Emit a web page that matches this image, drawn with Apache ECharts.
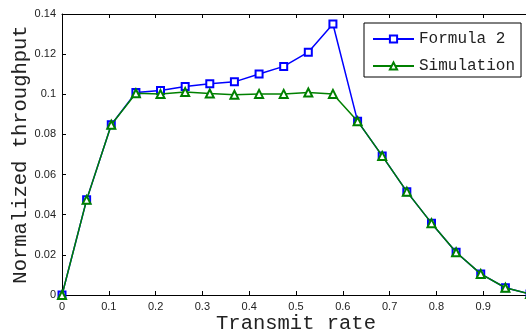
<!DOCTYPE html>
<html><head><meta charset="utf-8">
<script src="https://cdn.jsdelivr.net/npm/echarts@6/dist/echarts.min.js"></script>
<style>html,body{margin:0;padding:0;background:#fff}#c{width:526px;height:329px}</style>
</head><body><div id="c"></div>
<script>
const xValues = [0, 0.0526, 0.1053, 0.1579, 0.2105, 0.2632, 0.3158, 0.3684, 0.4211, 0.4737, 0.5263, 0.5789, 0.6316, 0.6842, 0.7368, 0.7895, 0.8421, 0.8947, 0.9474, 1.0];
const formula2 = [0, 0.0474, 0.0848, 0.1009, 0.1019, 0.1039, 0.1052, 0.1062, 0.1101, 0.1139, 0.1210, 0.1350, 0.0866, 0.0693, 0.0515, 0.0358, 0.0213, 0.0105, 0.0036, 0.0005];
const simulation = [0, 0.0474, 0.0848, 0.1005, 0.1001, 0.1011, 0.1004, 0.0998, 0.1002, 0.1002, 0.1009, 0.1002, 0.0866, 0.0693, 0.0515, 0.0358, 0.0213, 0.0105, 0.0036, 0.0005];
const seriesNames = ['Formula 2', 'Simulation'];
const xTitle = 'Transmit rate';
const yTitle = 'Normalized throughput';

const pair = (xs, ys) => xs.map((x, i) => [x, ys[i]]);
const tickFont = { fontFamily: 'Liberation Sans', fontSize: 11, color: '#222' };
const titleFont = { fontFamily: 'Liberation Mono', fontSize: 20.5, color: '#222' };
const axLine = { show: true, onZero: false, lineStyle: { color: '#000', width: 1 } };
const tick = { show: true, inside: true, length: 4, lineStyle: { color: '#000' } };

const chart = echarts.init(document.getElementById('c'), null, { renderer: 'canvas' });
chart.setOption({
  animation: false,
  backgroundColor: '#fff',
  grid: { left: 62, top: 14, width: 468, height: 281, containLabel: false, outerBoundsMode: 'none' },
  xAxis: [
    { type: 'value', min: 0, max: 1, interval: 0.1, position: 'bottom',
      axisLine: axLine, axisTick: tick, splitLine: { show: false },
      axisLabel: Object.assign({ margin: 6 }, tickFont),
      name: xTitle, nameLocation: 'middle', nameGap: 18, nameMoveOverlap: false, nameTextStyle: titleFont },
    { type: 'value', min: 0, max: 1, interval: 0.1, position: 'top',
      axisLine: axLine, axisTick: tick, splitLine: { show: false }, axisLabel: { show: false } }
  ],
  yAxis: [
    { type: 'value', min: 0, max: 0.14, interval: 0.02, position: 'left',
      axisLine: axLine, axisTick: tick, splitLine: { show: false },
      axisLabel: Object.assign({ margin: 6 }, tickFont),
      name: yTitle, nameLocation: 'middle', nameGap: 31, nameRotate: 90, nameMoveOverlap: false, nameTextStyle: titleFont },
    { type: 'value', min: 0, max: 0.14, interval: 0.02, position: 'right',
      axisLine: axLine, axisTick: tick, splitLine: { show: false }, axisLabel: { show: false } }
  ],
  legend: {
    orient: 'vertical', left: 364, top: 23,
    padding: [8, 6, 3, 8], itemGap: 11, itemWidth: 41, itemHeight: 9,
    backgroundColor: '#fff', borderColor: '#000', borderWidth: 1, borderRadius: 0,
    textStyle: { fontFamily: 'Liberation Mono', fontSize: 16, color: '#222', padding: [0, 0, 0, 0] },
    data: seriesNames
  },
  series: [
    { name: seriesNames[0], type: 'line', data: pair(xValues, formula2),
      symbol: 'emptyRect', symbolSize: 7, lineStyle: { color: '#0000ff', width: 1.5 },
      itemStyle: { color: '#0000ff', borderWidth: 1.5 }, z: 2 },
    { name: seriesNames[1], type: 'line', data: pair(xValues, simulation),
      symbol: 'emptyTriangle', symbolSize: 8, lineStyle: { color: '#008000', width: 1.5 },
      itemStyle: { color: '#008000', borderWidth: 1.5 }, z: 3 }
  ]
});
</script></body></html>
